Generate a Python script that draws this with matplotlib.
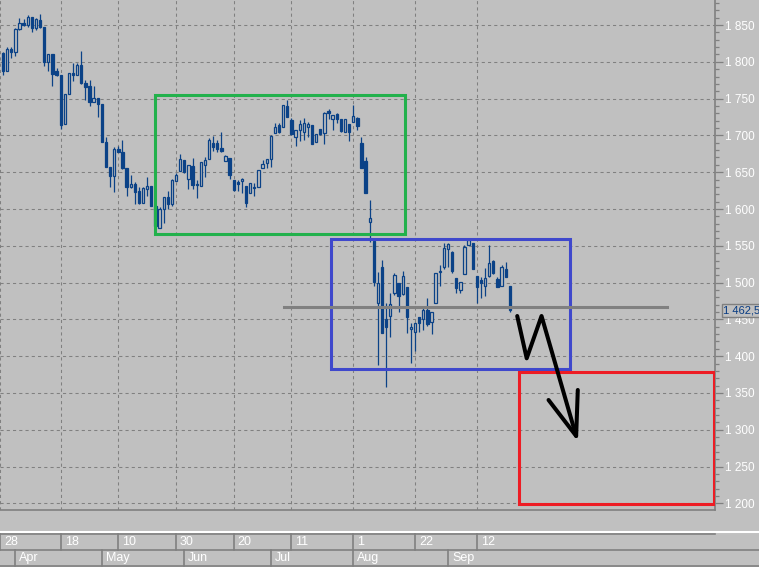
import matplotlib
matplotlib.use("Agg")
import matplotlib.pyplot as plt
import matplotlib.transforms as mtransforms
from matplotlib.lines import Line2D
from matplotlib.patches import Rectangle
from matplotlib.ticker import MultipleLocator, FuncFormatter

plt.rcParams["font.family"] = ["Liberation Sans", "DejaVu Sans"]

BG = "#c0c0c0"
GRID = "#808080"
CANDLE = "#0b4287"

# daily bars, oldest first
opens = [1812, 1788, 1817, 1813, 1845, 1853, 1850, 1861, 1846, 1857,
         1847, 1800, 1811, 1788, 1782, 1715, 1756, 1785, 1782, 1796,
         1771, 1767, 1745, 1751, 1743, 1691, 1657, 1645, 1682, 1677,
         1656, 1630, 1634, 1624, 1608, 1627, 1631, 1604, 1574, 1600,
         1616, 1607, 1638, 1652, 1667, 1641, 1658, 1634, 1631, 1660,
         1668, 1690, 1690, 1683, 1665, 1669, 1639, 1637, 1638, 1631,
         1622, 1630, 1630, 1656, 1663, 1668, 1703, 1714, 1711, 1740,
         1721, 1698, 1707, 1705, 1711, 1714, 1691, 1709, 1703, 1733,
         1722, 1729, 1722, 1705, 1715, 1718, 1724, 1690, 1665, 1582,
         1557, 1472, 1521, 1451, 1455, 1486, 1499, 1485, 1494, 1437,
         1433, 1453, 1451, 1463, 1446, 1472, 1514, 1521, 1546, 1542,
         1506, 1490, 1512, 1551, 1554, 1509, 1504, 1495, 1509, 1529,
         1505, 1495, 1518, 1495]
highs = [1813, 1820, 1820, 1846, 1860, 1858, 1864, 1861, 1860, 1865,
         1847, 1811, 1811, 1792, 1782, 1756, 1785, 1798, 1798, 1815,
         1775, 1775, 1767, 1751, 1743, 1698, 1657, 1684, 1686, 1694,
         1656, 1646, 1637, 1630, 1630, 1643, 1631, 1607, 1603, 1616,
         1624, 1641, 1649, 1675, 1667, 1660, 1669, 1639, 1664, 1671,
         1696, 1699, 1694, 1705, 1673, 1669, 1639, 1639, 1642, 1631,
         1635, 1635, 1653, 1667, 1668, 1701, 1717, 1717, 1741, 1748,
         1724, 1707, 1721, 1724, 1718, 1714, 1702, 1709, 1732, 1736,
         1728, 1730, 1722, 1722, 1715, 1741, 1725, 1698, 1671, 1612,
         1561, 1514, 1531, 1472, 1486, 1513, 1499, 1516, 1494, 1445,
         1445, 1453, 1466, 1479, 1460, 1513, 1524, 1554, 1554, 1543,
         1506, 1501, 1551, 1558, 1554, 1509, 1508, 1520, 1551, 1531,
         1508, 1524, 1528, 1495]
lows = [1782, 1788, 1805, 1808, 1843, 1849, 1847, 1840, 1843, 1846,
        1794, 1788, 1767, 1781, 1709, 1715, 1756, 1774, 1782, 1770,
        1748, 1740, 1745, 1725, 1691, 1657, 1630, 1623, 1677, 1654,
        1618, 1629, 1607, 1607, 1608, 1618, 1604, 1573, 1574, 1581,
        1600, 1604, 1638, 1652, 1649, 1627, 1627, 1615, 1631, 1643,
        1668, 1679, 1677, 1677, 1665, 1641, 1624, 1624, 1622, 1603,
        1622, 1618, 1630, 1656, 1656, 1657, 1703, 1703, 1711, 1725,
        1701, 1686, 1692, 1694, 1698, 1688, 1691, 1701, 1688, 1722,
        1707, 1717, 1705, 1705, 1692, 1718, 1707, 1656, 1622, 1555,
        1495, 1388, 1432, 1358, 1426, 1483, 1460, 1483, 1432, 1391,
        1407, 1433, 1436, 1441, 1430, 1472, 1495, 1518, 1521, 1513,
        1486, 1486, 1512, 1551, 1518, 1472, 1479, 1482, 1508, 1512,
        1494, 1495, 1508, 1460]
closes = [1788, 1817, 1813, 1845, 1853, 1850, 1861, 1846, 1858, 1847,
          1800, 1811, 1783, 1782, 1714, 1756, 1785, 1782, 1796, 1771,
          1766, 1745, 1751, 1743, 1691, 1657, 1645, 1682, 1677, 1656,
          1630, 1634, 1623, 1608, 1629, 1631, 1604, 1577, 1600, 1616,
          1607, 1639, 1646, 1668, 1650, 1660, 1633, 1633, 1664, 1667,
          1694, 1684, 1682, 1679, 1672, 1646, 1626, 1634, 1641, 1608,
          1635, 1629, 1653, 1661, 1668, 1699, 1711, 1705, 1741, 1725,
          1702, 1707, 1715, 1717, 1715, 1688, 1702, 1702, 1730, 1730,
          1728, 1722, 1706, 1722, 1705, 1726, 1713, 1656, 1622, 1588,
          1501, 1499, 1432, 1440, 1471, 1510, 1482, 1509, 1453, 1440,
          1445, 1445, 1463, 1444, 1460, 1513, 1516, 1547, 1552, 1516,
          1493, 1501, 1548, 1558, 1518, 1494, 1499, 1506, 1527, 1513,
          1494, 1521, 1508, 1462.5]

last_price = 1462.5

# bar index where each day label / month label starts
day_pos = [-0.7, 14, 28, 42, 56, 70, 85, 100, 115]
day_labels = ["28", "18", "10", "30", "20", "11", "1", "22", "12"]
month_pos = [3, 24, 44, 65, 85, 108]
month_labels = ["Apr", "May", "Jun", "Jul", "Aug", "Sep"]

# hand-drawn markup: (x0, x1, y0, y1) in bar index / price
green_box = (37.0, 97.6, 1566, 1755)
blue_box = (79.7, 137.7, 1383, 1559)
red_box = (125.3, 172.5, 1199, 1378)
level_x = (68.2, 161.1)
level_y = 1467
zig_x = [124.8, 127.1, 130.7, 139.1]
zig_y = [1454.6, 1397.1, 1454.6, 1291.6]
head_x = [132.4, 139.1, 139.5]
head_y = [1340.5, 1291.6, 1354.1]

W, H = 759, 567
fig = plt.figure(figsize=(W / 100, H / 100), dpi=100, facecolor=BG)
ax = fig.add_axes([0, 57 / H, 715 / W, 510 / H], facecolor=BG)

# candles
bw = 0.56
idx = range(len(opens))
tops = [max(o, c) for o, c in zip(opens, closes)]
bots = [min(o, c) for o, c in zip(opens, closes)]
ax.vlines(idx, tops, highs, color=CANDLE, lw=0.9, zorder=3)
ax.vlines(idx, lows, bots, color=CANDLE, lw=0.9, zorder=3)
for i in idx:
    fc = BG if closes[i] >= opens[i] else CANDLE
    ax.add_patch(Rectangle((i - bw / 2, bots[i]), bw, max(tops[i] - bots[i], 0.8),
                           fc=fc, ec=CANDLE, lw=0.9, zorder=3))

# markup
for (x0, x1, y0, y1), col in [(green_box, "#22b14c"), (blue_box, "#3f48cc"), (red_box, "#ed1c24")]:
    ax.add_patch(Rectangle((x0, y0), x1 - x0, y1 - y0, fill=False, ec=col, lw=2.2, zorder=4))
ax.plot(level_x, [level_y, level_y], color="#808080", lw=2.2, zorder=4)
ax.plot(zig_x, zig_y, color="black", lw=2.9, zorder=5, solid_capstyle="round")
ax.plot(head_x, head_y, color="black", lw=2.9, zorder=5, solid_capstyle="round")

ax.set_xlim(-0.728, 172.8)
ax.set_ylim(1191, 1884)

# axes styling
for s in ["top", "left"]:
    ax.spines[s].set_visible(False)
for s in ["right", "bottom"]:
    ax.spines[s].set_color(GRID)
    ax.spines[s].set_linewidth(1.2)
ax.yaxis.tick_right()
ax.yaxis.set_major_locator(MultipleLocator(50))
ax.yaxis.set_minor_locator(MultipleLocator(10))
ax.yaxis.set_major_formatter(FuncFormatter(lambda v, _: f"{v:,.0f}".replace(",", " ")))
ax.tick_params(axis="y", which="major", length=5.5, width=0.9, color=GRID,
               labelcolor="white", labelsize=8.5, pad=1.5)
ax.tick_params(axis="y", which="minor", length=3, width=0.9, color=GRID)
ax.set_xticks(day_pos)
ax.tick_params(axis="x", length=0, labelbottom=False)
ax.grid(True, color=GRID, lw=0.75, linestyle=(0, (3, 3)))
ax.set_axisbelow(True)

ax.annotate(f"{last_price:,.1f}".replace(",", " ").replace(".", ","),
            xy=(1, last_price), xycoords=("axes fraction", "data"),
            xytext=(8, 0), textcoords="offset pixels", va="center", ha="left",
            color="#063a82", fontsize=8, annotation_clip=False, zorder=6,
            bbox=dict(boxstyle="square,pad=0.12", fc=BG, ec=GRID, lw=1))

# date bar below the chart (pixel coords from top-left)
px = mtransforms.Affine2D().scale(1 / W, -1 / H).translate(0, 1) + fig.transFigure
bt = mtransforms.blended_transform_factory(ax.transData, px)
txt_off = mtransforms.ScaledTranslation(4 / 100, 0, fig.dpi_scale_trans)

fig.add_artist(Line2D([0, W], [531.5, 531.5], transform=px, color="white", lw=1.5))
fig.add_artist(Line2D([0, 715], [533.5, 533.5], transform=px, color=GRID, lw=1.2))
fig.add_artist(Line2D([0, W], [550, 550], transform=px, color=GRID, lw=1.2))
fig.add_artist(Line2D([0, W], [565.5, 565.5], transform=px, color=GRID, lw=1.2))

for p, lab in zip(day_pos, day_labels):
    fig.add_artist(Line2D([p, p], [533.5, 550], transform=bt, color=GRID, lw=1.2))
    fig.text(p, 542, lab, transform=bt + txt_off, color="white", fontsize=9,
             va="center", ha="left")
for p, lab in zip(month_pos, month_labels):
    fig.add_artist(Line2D([p, p], [550, 565.5], transform=bt, color=GRID, lw=1.2))
    fig.text(p, 558, lab, transform=bt + txt_off, color="white", fontsize=9,
             va="center", ha="left")

fig.savefig("out.png", dpi=100, facecolor=BG)
